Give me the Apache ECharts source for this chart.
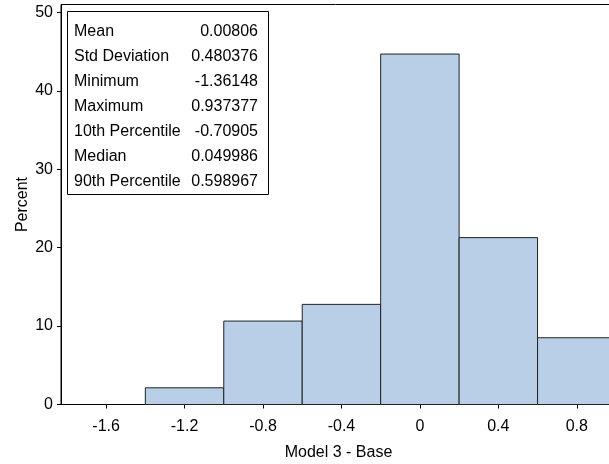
<!DOCTYPE html>
<html>
<head>
<meta charset="utf-8">
<script src="https://cdn.jsdelivr.net/npm/echarts@6/dist/echarts.min.js"></script>
<style>html,body{margin:0;padding:0;background:#fff}#c{width:609px;height:464px}</style>
</head>
<body>
<div id="c"></div>
<script>
var binStarts = [-1.4, -1.0, -0.6, -0.2, 0.2, 0.6];
var binEnds = [-1.0, -0.6, -0.2, 0.2, 0.6, 1.0];
var percents = [2.128, 10.638, 12.766, 44.681, 21.277, 8.511];
var xTicks = [-1.6, -1.2, -0.8, -0.4, 0, 0.4, 0.8];
var statLabels = ['Mean', 'Std Deviation', 'Minimum', 'Maximum', '10th Percentile', 'Median', '90th Percentile'];
var statValues = ['0.00806', '0.480376', '-1.36148', '0.937377', '-0.70905', '0.049986', '0.598967'];

var FONT = 'Liberation Sans, Arial, sans-serif';
var data = binStarts.map(function (s, i) { return [s, binEnds[i], percents[i]]; });

var chart = echarts.init(document.getElementById('c'));

var gfx = [{
  type: 'rect', left: 67, top: 11, z: 100,
  shape: { width: 201, height: 183 },
  style: { fill: '#fff', stroke: '#000', lineWidth: 1 }
}];
statLabels.forEach(function (lab, i) {
  var y = 32 + i * 24.9;
  gfx.push({ type: 'text', x: 74, y: y, z: 101,
    style: { text: lab, font: '16px ' + FONT, fill: '#000', textAlign: 'left', textVerticalAlign: 'middle' } });
  gfx.push({ type: 'text', x: 258, y: y, z: 101,
    style: { text: statValues[i], font: '16px ' + FONT, fill: '#000', textAlign: 'right', textVerticalAlign: 'middle' } });
});

chart.setOption({
  animation: false,
  grid: { left: 61, top: 4.5, width: 555, height: 400, outerBoundsMode: 'none', containLabel: false,
    show: true, borderColor: '#000', borderWidth: 1, backgroundColor: 'transparent' },
  xAxis: {
    type: 'value', min: -1.83, max: 1.0,
    name: 'Model 3 - Base', nameLocation: 'middle', nameGap: 40, nameMoveOverlap: false,
    nameTextStyle: { fontSize: 16, color: '#000', fontFamily: FONT },
    axisLine: { show: true, onZero: false, lineStyle: { color: '#000', width: 1 } },
    axisTick: { show: true, length: 4, customValues: xTicks, lineStyle: { color: '#000' } },
    axisLabel: { customValues: xTicks, fontSize: 16, color: '#000', fontFamily: FONT, margin: 14,
      formatter: function (v) { return String(Math.round(v * 10) / 10); } },
    splitLine: { show: false }
  },
  yAxis: {
    type: 'value', min: 0, max: 51, interval: 10,
    name: 'Percent', nameLocation: 'middle', nameGap: 30, nameMoveOverlap: false,
    nameTextStyle: { fontSize: 16, color: '#000', fontFamily: FONT },
    axisLine: { show: true, onZero: false, lineStyle: { color: '#000', width: 1 } },
    axisTick: { show: true, length: 4, lineStyle: { color: '#000' } },
    axisLabel: { fontSize: 16, color: '#000', fontFamily: FONT, margin: 8, showMaxLabel: false },
    splitLine: { show: false }
  },
  series: [{
    type: 'custom',
    data: data,
    encode: { x: [0, 1], y: 2 },
    renderItem: function (params, api) {
      var p0 = api.coord([api.value(0), api.value(2)]);
      var p1 = api.coord([api.value(1), 0]);
      return {
        type: 'rect',
        shape: { x: p0[0], y: p0[1], width: p1[0] - p0[0], height: p1[1] - p0[1] },
        style: { fill: '#b9cfe7', stroke: '#222', lineWidth: 1 }
      };
    }
  }],
  graphic: gfx
});
</script>
</body>
</html>
